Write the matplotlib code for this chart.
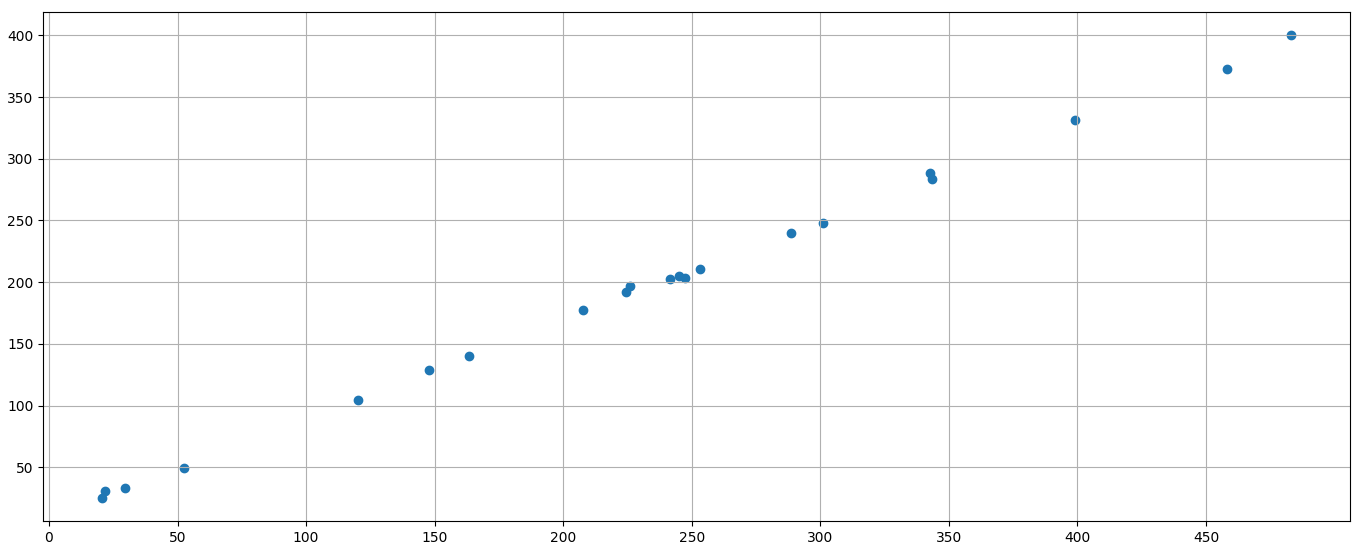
import matplotlib
matplotlib.use("Agg")
import matplotlib.pyplot as plt

# values
x_vals = [20.8, 21.6, 29.4, 52.7, 120.0, 147.6, 163.2, 207.5, 224.3, 225.8, 241.7,
          245.2, 247.2, 253.0, 288.4, 300.9, 342.5, 343.3, 398.9, 458.0, 482.9]
y_vals = [25.3, 31.0, 33.4, 49.6, 104.6, 128.9, 140.2, 177.5, 192.0, 196.9, 202.5,
          205.0, 203.4, 210.7, 239.8, 247.9, 288.3, 283.4, 331.1, 372.4, 400.0]
x_ticks = [0, 50, 100, 150, 200, 250, 300, 350, 400, 450]

fig = plt.figure(figsize=(13.67, 5.53), dpi=100)
ax = fig.add_axes([0.0315, 0.058, 0.9561, 0.92])
ax.scatter(x_vals, y_vals, color="#1f77b4")
ax.set_xticks(x_ticks)
ax.grid(True)
fig.savefig("out.png", dpi=100)
